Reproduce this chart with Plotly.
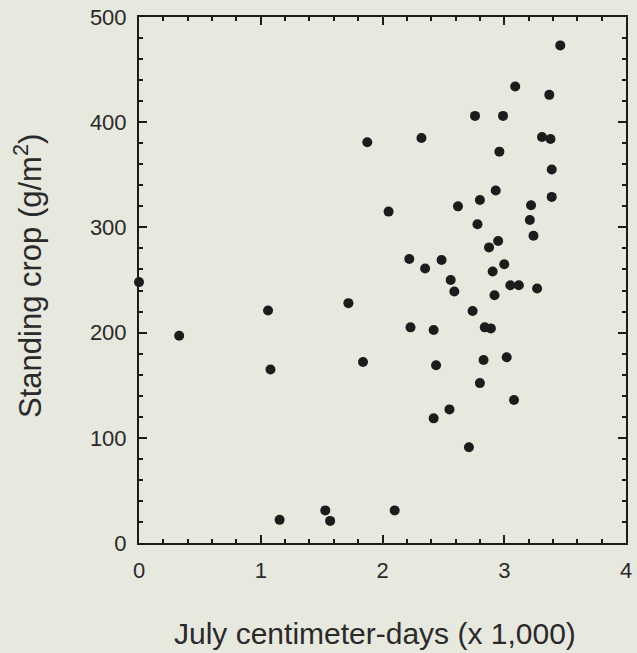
import plotly.graph_objects as go

# July centimeter-days (x 1,000)
cm_days = [0.00, 0.33, 1.06, 1.08, 1.155, 1.53, 1.57, 1.72, 1.84, 1.875,
           2.05, 2.10, 2.22, 2.23, 2.32, 2.35, 2.42, 2.42, 2.44, 2.485,
           2.55, 2.56, 2.59, 2.62, 2.71, 2.74, 2.76, 2.78, 2.80, 2.80,
           2.83, 2.84, 2.875, 2.89, 2.905, 2.92, 2.93, 2.95, 2.96, 2.99,
           3.00, 3.02, 3.05, 3.08, 3.09, 3.12, 3.21, 3.22, 3.24, 3.27,
           3.31, 3.37, 3.38, 3.39, 3.39, 3.46]
# Standing crop (g/m2)
standing_crop = [248, 197, 221, 165, 22, 31, 21, 228, 172, 381,
                 315, 31, 270, 205, 385, 261, 202.5, 118.5, 169, 269,
                 127, 250, 239, 320, 91, 220.5, 406, 303, 326, 152,
                 174, 205, 281, 204, 258, 235.5, 335, 287, 372, 406,
                 265, 176.5, 245, 136, 434, 245, 307, 321, 292, 242,
                 386, 426, 384, 355, 329, 473]

x_ticks = [0, 1, 2, 3, 4]
y_ticks = [0, 100, 200, 300, 400, 500]
x_title = "July centimeter-days (x 1,000)"
y_title = "Standing crop (g/m<sup>2</sup>)"

bg = "#e7e8de"
ink = "#1c1c1c"
txt = "#2a2a2a"
font_family = "Liberation Sans, Arial, Helvetica, sans-serif"

fig = go.Figure()
fig.add_trace(go.Scatter(
    x=cm_days, y=standing_crop, mode="markers",
    marker=dict(size=10, color=ink, line=dict(width=0)),
    showlegend=False, cliponaxis=False,
))

axis_common = dict(
    showline=True, linecolor=ink, linewidth=2, mirror="ticks",
    ticks="inside", ticklen=8, tickwidth=2, tickcolor=ink,
    showgrid=False, zeroline=False,
    tickfont=dict(family=font_family, size=22, color=txt),
)

fig.update_xaxes(
    range=[0, 4], tickvals=x_ticks, ticktext=[str(v) for v in x_ticks],
    minor=dict(dtick=0.2, ticks="inside", ticklen=4, tickwidth=2, tickcolor=ink, showgrid=False),
    ticklabelstandoff=7,
    **axis_common,
)
fig.update_yaxes(
    range=[0, 500], tickvals=y_ticks, ticktext=[str(v) for v in y_ticks],
    minor=dict(dtick=20, ticks="inside", ticklen=4, tickwidth=2, tickcolor=ink, showgrid=False),
    ticklabelstandoff=6,
    **axis_common,
)

fig.add_annotation(
    text=x_title, xref="paper", yref="paper", x=0.5, y=0,
    xanchor="center", yanchor="middle", xshift=-8, yshift=-90,
    showarrow=False, font=dict(family=font_family, size=30, color=txt),
)
fig.add_annotation(
    text=y_title, xref="paper", yref="paper", x=0, y=0.5, textangle=-90,
    xanchor="center", yanchor="middle", xshift=-111, yshift=4,
    showarrow=False, font=dict(family=font_family, size=31, color=txt),
)

fig.update_layout(
    width=637, height=653,
    margin=dict(l=139, r=5, t=17, b=110),
    paper_bgcolor=bg, plot_bgcolor=bg,
    font=dict(family=font_family, color=txt),
)

fig.write_html("out.html", config={"displayModeBar": False})

# remove the default page margin so the figure sits at the window's top-left
with open("out.html", "r", encoding="utf-8") as f:
    html = f.read()
html = html.replace("<head>", "<head><style>html,body{margin:0;padding:0;overflow:hidden;background:%s;}</style>" % bg, 1)
with open("out.html", "w", encoding="utf-8") as f:
    f.write(html)
